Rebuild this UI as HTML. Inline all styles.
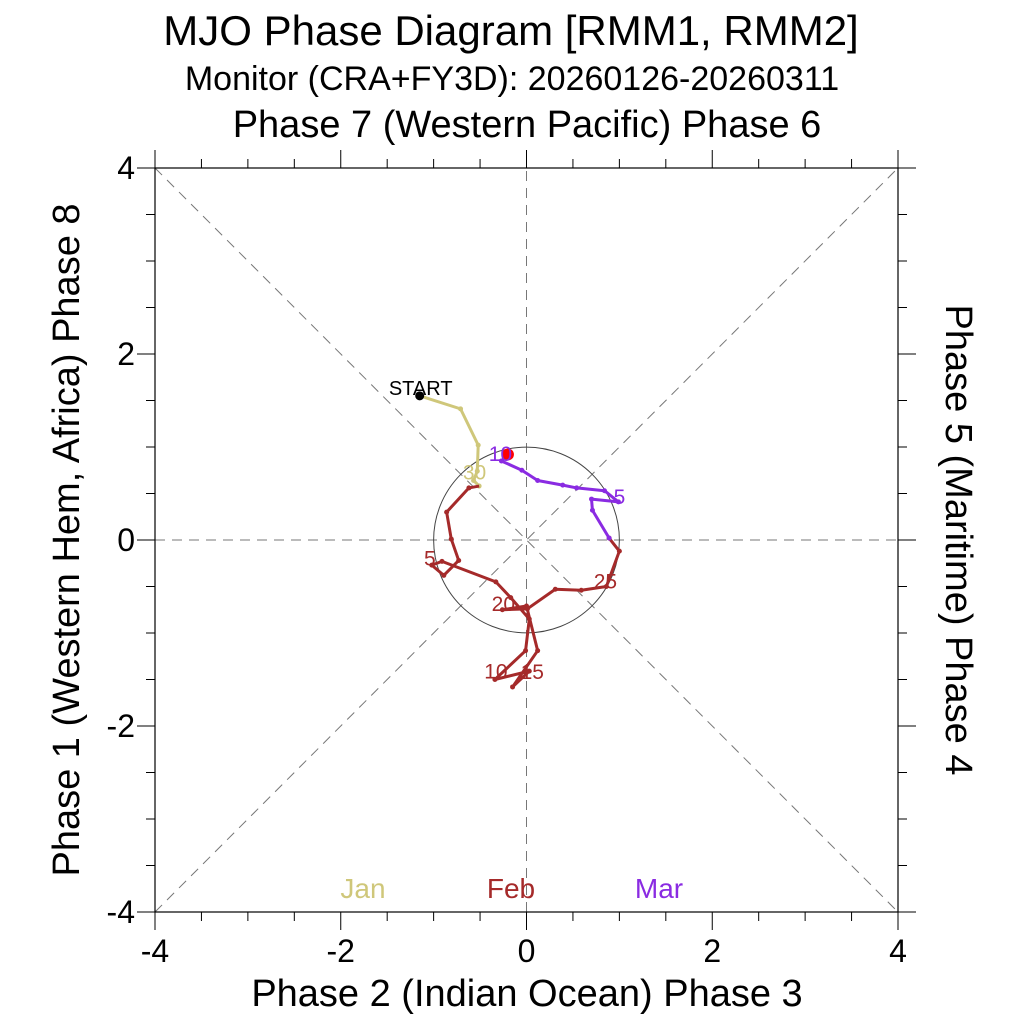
<!DOCTYPE html>
<html><head><meta charset="utf-8">
<style>
html,body{margin:0;padding:0;background:#fff;}
svg{display:block;font-family:"Liberation Sans",sans-serif;}
</style></head>
<body>
<svg id="chart" width="1024" height="1024" viewBox="0 0 1024 1024">
<text x="511" y="45" font-size="42" text-anchor="middle">MJO Phase Diagram [RMM1, RMM2]</text>
<text x="512" y="90" font-size="34" text-anchor="middle">Monitor (CRA+FY3D): 20260126-20260311</text>
<text x="527" y="137" font-size="38" text-anchor="middle">Phase 7 (Western Pacific) Phase 6</text>
<text x="527" y="1006" font-size="38" text-anchor="middle">Phase 2 (Indian Ocean) Phase 3</text>
<text transform="translate(79,540) rotate(-90)" font-size="38" text-anchor="middle">Phase 1 (Western Hem, Africa) Phase 8</text>
<text transform="translate(946,540) rotate(90)" font-size="38" text-anchor="middle">Phase 5 (Maritime) Phase 4</text>
<g id="axes"></g>
<g id="marks"></g>
<text x="363" y="898" font-size="28" fill="#cfc77a" text-anchor="middle">Jan</text>
<text x="511" y="898" font-size="28" fill="#a52a2a" text-anchor="middle">Feb</text>
<text x="659" y="898" font-size="28" fill="#8a2be2" text-anchor="middle">Mar</text>
</svg>
<script>
const janX=[-1.15,-0.71,-0.52,-0.53,-0.57,-0.51];
const janY=[1.55,1.41,1.02,0.74,0.64,0.58];
const febX=[-0.62,-0.86,-0.81,-0.73,-0.89,-1.02,-0.91,-0.33,-0.17,0.03,-0.01,-0.34,0.03,-0.15,0.12,0.0,-0.26,0.01,0.31,0.59,0.86,1.0,0.89];
const febY=[0.56,0.30,0.01,-0.22,-0.38,-0.27,-0.23,-0.45,-0.62,-0.85,-1.19,-1.50,-1.41,-1.58,-1.19,-0.71,-0.75,-0.74,-0.53,-0.54,-0.50,-0.12,0.02];
const marX=[0.89,0.71,0.70,0.99,0.84,0.54,0.39,0.12,-0.05,-0.27,-0.20];
const marY=[0.02,0.32,0.44,0.41,0.53,0.56,0.59,0.64,0.75,0.85,0.92];
const tickVals=[-4,-2,0,2,4];
const tickLabels=["-4","-2","0","2","4"];
const NS="http://www.w3.org/2000/svg";
const X0=155,X1=898,Y0=912,Y1=168;
const sx=v=>X0+(v+4)/8*(X1-X0);
const sy=v=>Y0-(v+4)/8*(Y0-Y1);
function mk(tag,attrs,parent){const e=document.createElementNS(NS,tag);for(const k in attrs)e.setAttribute(k,attrs[k]);parent.appendChild(e);return e;}
const ax=document.getElementById('axes'),mg=document.getElementById('marks');
[[-4,-4,4,4],[-4,4,4,-4],[-4,0,4,0],[0,-4,0,4]].forEach(d=>{
 const l=mk('line',{x1:sx(d[0]),y1:sy(d[1]),x2:sx(d[2]),y2:sy(d[3]),stroke:'#777','stroke-width':1,'stroke-dasharray':'10,7'},ax);
 
 
});
const c=mk('circle',{cx:sx(0),cy:sy(0),r:sx(1)-sx(0),fill:'none',stroke:'#444','stroke-width':1},ax);


const box=mk('rect',{x:X0,y:Y1,width:X1-X0,height:Y0-Y1,fill:'none',stroke:'#000','stroke-width':1.2},ax);


for(let v=-4;v<=4.001;v+=0.5){
 const major=Math.abs(v%2)<1e-6, L=major?18:9;
 mk('line',{x1:sx(v),y1:Y0,x2:sx(v),y2:Y0+L,stroke:'#000'},ax);
 mk('line',{x1:sx(v),y1:Y1,x2:sx(v),y2:Y1-L,stroke:'#000'},ax);
 mk('line',{x1:X0,y1:sy(v),x2:X0-L,y2:sy(v),stroke:'#000'},ax);
 mk('line',{x1:X1,y1:sy(v),x2:X1+L,y2:sy(v),stroke:'#000'},ax);
}
tickVals.forEach((v,i)=>{
 const t=mk('text',{x:sx(v),y:Y0+50,'font-size':32,'text-anchor':'middle'},ax);t.textContent=tickLabels[i];
 
 
 const u=mk('text',{x:X0-20,y:sy(v)+11,'font-size':32,'text-anchor':'end'},ax);u.textContent=tickLabels[i];
 
 
});
function series(xs,ys,color,name,prev){
 let pts=xs.map((x,i)=>[sx(x),sy(ys[i])]);
 if(prev)pts=[prev].concat(pts);
 const p=mk('polyline',{points:pts.map(p=>p.join(',')).join(' '),fill:'none',stroke:color,'stroke-width':3,'stroke-linejoin':'round'},mg);
 
 
 xs.forEach((x,i)=>{const d=mk('circle',{cx:sx(x),cy:sy(ys[i]),r:2.5,fill:color},mg);
  
  });
 return pts[pts.length-1];
}
let last=series(janX,janY,'#cfc77a','jan');
last=series(febX,febY,'#a52a2a','feb',last);
series(marX,marY,'#8a2be2','mar',last);
const st=mk('circle',{cx:sx(janX[0]),cy:sy(janY[0]),r:4.5,fill:'#000'},mg);


const en=mk('circle',{cx:sx(marX[marX.length-1]),cy:sy(marY[marY.length-1]),r:6,fill:'#f00'},mg);


function lab(txt,x,y,color,fs){const t=mk('text',{x:x,y:y,'font-size':fs||21,fill:color,'text-anchor':'middle'},mg);t.textContent=txt;
 
 }
lab('START',sx(janX[0])+1,sy(janY[0])-1,'#000',20);
lab('30',sx(janX[4])+1,sy(janY[4])-1,'#cfc77a');
lab('5',sx(febX[4])-14,sy(febY[4])-10,'#a52a2a');
lab('10',sx(febX[11])+1,sy(febY[11])-1,'#a52a2a');
lab('15',sx(febX[12])+3,sy(febY[12])+8,'#a52a2a');
lab('20',sx(febX[16])+1,sy(febY[16])+1,'#a52a2a');
lab('25',sx(febX[20])-1,sy(febY[20])+2,'#a52a2a');
lab('5',sx(marX[3])+1,sy(marY[3])+2,'#8a2be2');
lab('10',sx(marX[9])-1,sy(marY[9])+0,'#8a2be2');
</script>
</body></html>
